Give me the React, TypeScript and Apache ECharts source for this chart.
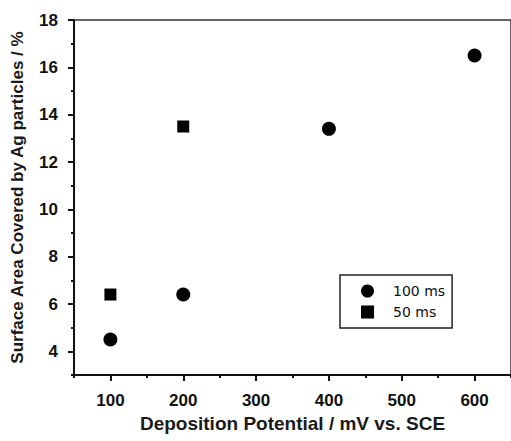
import React, { useEffect, useRef } from "react";
import * as echarts from "echarts";

const potentials100 = [100, 200, 400, 600];
const coverage100 = [4.5, 6.4, 13.4, 16.5];
const potentials50 = [100, 200];
const coverage50 = [6.4, 13.5];

const xMajorTicks = [100, 200, 300, 400, 500, 600];
const xMinorTicks = [50, 150, 250, 350, 450, 550, 650];
const yMajorTicks = [4, 6, 8, 10, 12, 14, 16, 18];
const yMinorTicks = [3, 5, 7, 9, 11, 13, 15, 17];

const seriesNames = ["100 ms", "50 ms"];

export default function App() {
  const ref = useRef<HTMLDivElement>(null);
  useEffect(() => {
    if (!ref.current) return;
    const chart = echarts.init(ref.current, null, { renderer: "svg" });
    const axisFont = "Liberation Sans, Arial, sans-serif";
    const tickLabel = {
      fontFamily: axisFont,
      fontSize: 17,
      fontWeight: "bold" as const,
      color: "#111",
    };
    chart.setOption({
      animation: false,
      backgroundColor: "#fff",
      grid: {
        left: 74,
        top: 20,
        width: 441,
        height: 355,
        show: true,
        borderColor: "#333",
        borderWidth: 1.5,
        backgroundColor: "transparent",
      },
      legend: {
        left: 340,
        top: 275,
        orient: "vertical",
        borderColor: "#222",
        borderWidth: 1.5,
        borderRadius: 0,
        padding: [9, 7, 9, 21],
        itemGap: 7,
        itemWidth: 13,
        itemHeight: 13,
        data: [
          { name: seriesNames[0], icon: "circle", itemStyle: { opacity: 1 } },
          { name: seriesNames[1], icon: "rect", itemStyle: { opacity: 1 } },
        ],
        textStyle: {
          fontFamily: "DejaVu Sans",
          fontSize: 14,
          color: "#111",
          padding: [0, 0, 0, 14],
        },
      },
      xAxis: [
        {
          type: "value",
          min: 50,
          max: 650,
          position: "bottom",
          name: "Deposition Potential / mV vs. SCE",
          nameLocation: "middle",
          nameGap: 39,
          nameTextStyle: {
            fontFamily: axisFont,
            fontSize: 19,
            fontWeight: "bold",
            color: "#1a1a1a",
          },
          axisLine: { show: true, onZero: false, lineStyle: { color: "#111", width: 2 } },
          axisTick: {
            show: true,
            length: 6,
            lineStyle: { color: "#111", width: 2 },
            customValues: xMajorTicks,
          },
          axisLabel: { ...tickLabel, margin: 17, customValues: xMajorTicks },
          splitLine: { show: false },
        },
        {
          type: "value",
          min: 50,
          max: 650,
          position: "bottom",
          axisLine: { show: false, onZero: false },
          axisTick: {
            show: true,
            length: 3,
            lineStyle: { color: "#111", width: 2 },
            customValues: xMinorTicks,
          },
          axisLabel: { show: false },
          splitLine: { show: false },
        },
      ],
      yAxis: [
        {
          type: "value",
          min: 3,
          max: 18,
          position: "left",
          name: "Surface Area Covered by Ag particles / %",
          nameLocation: "middle",
          nameGap: 48,
          nameTextStyle: {
            fontFamily: axisFont,
            fontSize: 17,
            fontWeight: "bold",
            color: "#1a1a1a",
          },
          axisLine: { show: true, onZero: false, lineStyle: { color: "#111", width: 2 } },
          axisTick: {
            show: true,
            length: 6,
            lineStyle: { color: "#111", width: 2 },
            customValues: yMajorTicks,
          },
          axisLabel: { ...tickLabel, margin: 16, customValues: yMajorTicks },
          splitLine: { show: false },
        },
        {
          type: "value",
          min: 3,
          max: 18,
          position: "left",
          axisLine: { show: false, onZero: false },
          axisTick: {
            show: true,
            length: 3,
            lineStyle: { color: "#111", width: 2 },
            customValues: yMinorTicks,
          },
          axisLabel: { show: false },
          splitLine: { show: false },
        },
      ],
      series: [
        {
          name: seriesNames[0],
          type: "scatter",
          symbol: "circle",
          symbolSize: 14,
          itemStyle: { color: "#000", opacity: 1 },
          data: potentials100.map((x, i) => [x, coverage100[i]]),
        },
        {
          name: seriesNames[1],
          type: "scatter",
          symbol: "rect",
          symbolSize: 12,
          itemStyle: { color: "#000", opacity: 1 },
          data: potentials50.map((x, i) => [x, coverage50[i]]),
        },
      ],
    });
    return () => chart.dispose();
  }, []);
  return (
    <div
      ref={ref}
      style={{ position: "absolute", left: 0, top: 0, width: 511, height: 441 }}
    />
  );
}
